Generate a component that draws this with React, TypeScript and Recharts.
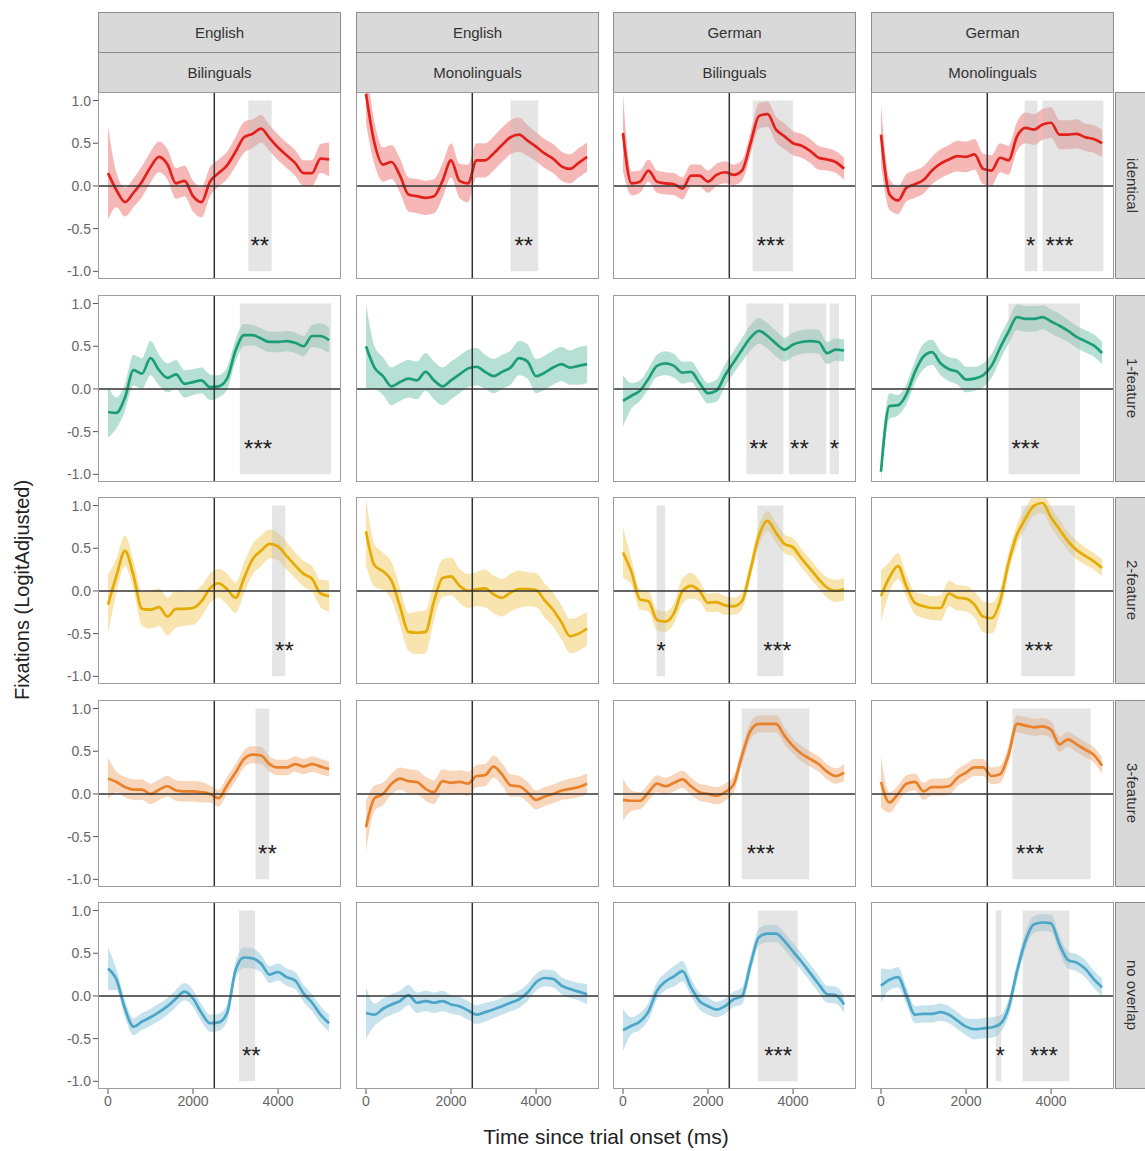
import React from "react";
import {
  ComposedChart,
  Area,
  Line,
  XAxis,
  YAxis,
  ReferenceArea,
  ReferenceLine,
  ReferenceDot,
} from "recharts";

// time points (ms since trial onset)
const TIME = [
  0, 200, 400, 600, 800, 1000, 1200, 1400, 1600, 1800, 2000, 2200, 2400, 2600,
  2800, 3000, 3200, 3400, 3600, 3800, 4000, 4200, 4400, 4600, 4800, 5000, 5200,
];

const LANGUAGES = ["English", "English", "German", "German"];
const GROUPS = ["Bilinguals", "Monolinguals", "Bilinguals", "Monolinguals"];
const CONDITIONS = ["identical", "1-feature", "2-feature", "3-feature", "no overlap"];
const X_TICKS = [0, 2000, 4000];
const Y_TICKS = [-1, -0.5, 0, 0.5, 1];
const TARGET_ONSET = 2500;

// --- identical ---
const identEnBi = [0.15, -0.05, -0.19, -0.08, 0.05, 0.22, 0.34, 0.25, 0.03, 0.06, -0.12, -0.19, 0.05, 0.15, 0.24, 0.4, 0.57, 0.61, 0.67, 0.56, 0.45, 0.36, 0.27, 0.15, 0.15, 0.32, 0.31];
const identEnBiSe = [0.55, 0.2, 0.17, 0.17, 0.18, 0.18, 0.18, 0.18, 0.18, 0.18, 0.18, 0.18, 0.17, 0.16, 0.16, 0.17, 0.18, 0.17, 0.16, 0.15, 0.15, 0.15, 0.15, 0.15, 0.15, 0.17, 0.2];
const identEnMo = [1.08, 0.5, 0.25, 0.28, 0.12, -0.1, -0.12, -0.14, -0.12, 0.06, 0.3, 0.06, 0.03, 0.3, 0.3, 0.38, 0.48, 0.57, 0.6, 0.53, 0.46, 0.38, 0.32, 0.23, 0.2, 0.27, 0.34];
const identEnMoSe = [0.35, 0.25, 0.2, 0.2, 0.2, 0.2, 0.2, 0.2, 0.2, 0.2, 0.2, 0.2, 0.22, 0.2, 0.2, 0.2, 0.2, 0.2, 0.2, 0.18, 0.17, 0.17, 0.17, 0.17, 0.17, 0.17, 0.17];
const identGeBi = [0.62, 0.03, 0.05, 0.18, 0.05, 0.03, 0.02, -0.03, 0.12, 0.12, 0.05, 0.13, 0.16, 0.13, 0.18, 0.5, 0.82, 0.84, 0.66, 0.58, 0.5, 0.47, 0.41, 0.33, 0.31, 0.28, 0.2];
const identGeBiSe = [0.45, 0.14, 0.13, 0.13, 0.13, 0.13, 0.13, 0.13, 0.13, 0.13, 0.13, 0.13, 0.13, 0.12, 0.12, 0.13, 0.15, 0.15, 0.15, 0.15, 0.14, 0.14, 0.14, 0.14, 0.13, 0.13, 0.13];
const identGeMo = [0.6, -0.1, -0.17, -0.02, 0.02, 0.07, 0.18, 0.26, 0.31, 0.35, 0.34, 0.37, 0.2, 0.18, 0.33, 0.3, 0.58, 0.68, 0.66, 0.72, 0.74, 0.6, 0.6, 0.61, 0.57, 0.55, 0.5];
const identGeMoSe = [0.35, 0.18, 0.16, 0.16, 0.16, 0.16, 0.16, 0.17, 0.17, 0.18, 0.18, 0.18, 0.18, 0.18, 0.17, 0.17, 0.17, 0.18, 0.18, 0.18, 0.18, 0.17, 0.17, 0.17, 0.16, 0.16, 0.16];

// --- 1-feature ---
const oneEnBi = [-0.27, -0.28, -0.1, 0.22, 0.18, 0.36, 0.22, 0.13, 0.17, 0.06, 0.08, 0.1, 0.02, 0.03, 0.12, 0.45, 0.63, 0.63, 0.59, 0.55, 0.55, 0.56, 0.54, 0.5, 0.62, 0.62, 0.57];
const oneEnBiSe = [0.3, 0.18, 0.16, 0.18, 0.18, 0.2, 0.18, 0.17, 0.17, 0.16, 0.15, 0.15, 0.15, 0.13, 0.13, 0.13, 0.13, 0.12, 0.12, 0.12, 0.12, 0.12, 0.12, 0.12, 0.13, 0.15, 0.15];
const oneEnMo = [0.5, 0.25, 0.15, 0.03, 0.08, 0.12, 0.1, 0.2, 0.1, 0.03, 0.1, 0.17, 0.24, 0.26, 0.2, 0.15, 0.2, 0.25, 0.36, 0.32, 0.15, 0.19, 0.25, 0.29, 0.25, 0.27, 0.29];
const oneEnMoSe = [0.5, 0.25, 0.22, 0.22, 0.22, 0.22, 0.22, 0.22, 0.22, 0.22, 0.22, 0.22, 0.22, 0.22, 0.2, 0.2, 0.2, 0.2, 0.2, 0.2, 0.2, 0.2, 0.2, 0.2, 0.2, 0.22, 0.22];
const oneGeBi = [-0.14, -0.08, -0.02, 0.12, 0.27, 0.3, 0.27, 0.19, 0.2, 0.07, -0.05, -0.02, 0.16, 0.31, 0.46, 0.6, 0.68, 0.62, 0.53, 0.46, 0.52, 0.55, 0.56, 0.55, 0.42, 0.46, 0.45];
const oneGeBiSe = [0.3, 0.15, 0.12, 0.12, 0.13, 0.14, 0.14, 0.13, 0.12, 0.12, 0.12, 0.13, 0.13, 0.13, 0.14, 0.15, 0.15, 0.15, 0.15, 0.14, 0.14, 0.14, 0.14, 0.14, 0.13, 0.13, 0.13];
const oneGeMo = [-0.97, -0.2, -0.19, -0.06, 0.2, 0.38, 0.43, 0.3, 0.23, 0.2, 0.11, 0.12, 0.16, 0.27, 0.48, 0.67, 0.84, 0.82, 0.82, 0.84, 0.79, 0.74, 0.68, 0.61, 0.56, 0.51, 0.42];
const oneGeMoSe = [0.12, 0.15, 0.12, 0.12, 0.13, 0.15, 0.15, 0.14, 0.14, 0.15, 0.15, 0.14, 0.14, 0.14, 0.14, 0.14, 0.15, 0.15, 0.15, 0.14, 0.14, 0.14, 0.13, 0.13, 0.13, 0.13, 0.13];

// --- 2-feature ---
const twoEnBi = [-0.16, 0.18, 0.47, 0.18, -0.21, -0.22, -0.19, -0.3, -0.21, -0.21, -0.2, -0.12, 0.03, 0.09, 0.02, -0.08, 0.15, 0.37, 0.47, 0.55, 0.52, 0.41, 0.3, 0.2, 0.14, -0.03, -0.06];
const twoEnBiSe = [0.35, 0.2, 0.18, 0.17, 0.2, 0.22, 0.22, 0.22, 0.22, 0.2, 0.2, 0.18, 0.17, 0.17, 0.18, 0.18, 0.18, 0.18, 0.18, 0.17, 0.16, 0.16, 0.15, 0.15, 0.15, 0.16, 0.18];
const twoEnMo = [0.7, 0.3, 0.23, 0.12, -0.18, -0.48, -0.49, -0.48, -0.12, 0.15, 0.17, 0.06, 0, 0.02, 0.03, -0.04, -0.08, -0.02, 0.02, 0.02, 0.01, -0.11, -0.22, -0.37, -0.53, -0.5, -0.44];
const twoEnMoSe = [0.4, 0.25, 0.22, 0.22, 0.22, 0.22, 0.25, 0.25, 0.22, 0.22, 0.22, 0.2, 0.2, 0.2, 0.22, 0.22, 0.22, 0.22, 0.22, 0.2, 0.2, 0.2, 0.2, 0.2, 0.2, 0.2, 0.2];
const twoGeBi = [0.45, 0.22, -0.1, -0.12, -0.34, -0.36, -0.26, 0, 0.06, 0, -0.14, -0.13, -0.17, -0.18, -0.12, 0.25, 0.65, 0.82, 0.68, 0.55, 0.51, 0.38, 0.26, 0.14, 0.04, 0, 0.02];
const twoGeBiSe = [0.3, 0.15, 0.12, 0.12, 0.12, 0.12, 0.12, 0.15, 0.15, 0.12, 0.11, 0.11, 0.11, 0.1, 0.1, 0.1, 0.12, 0.12, 0.12, 0.11, 0.11, 0.11, 0.11, 0.11, 0.12, 0.13, 0.13];
const twoGeMo = [-0.06, 0.16, 0.29, 0.05, -0.14, -0.18, -0.2, -0.2, -0.03, -0.08, -0.09, -0.16, -0.3, -0.32, -0.12, 0.33, 0.66, 0.85, 1.0, 1.03, 0.86, 0.72, 0.58, 0.48, 0.41, 0.35, 0.27];
const twoGeMoSe = [0.3, 0.18, 0.15, 0.13, 0.13, 0.14, 0.14, 0.15, 0.15, 0.15, 0.15, 0.15, 0.18, 0.18, 0.14, 0.12, 0.12, 0.12, 0.12, 0.12, 0.12, 0.12, 0.11, 0.11, 0.1, 0.1, 0.1];

// --- 3-feature ---
const threeEnBi = [0.18, 0.14, 0.08, 0.05, 0.05, 0, 0.05, 0.09, 0.04, 0.03, 0.03, 0.02, 0, -0.05, 0.1, 0.25, 0.41, 0.46, 0.45, 0.35, 0.31, 0.31, 0.35, 0.32, 0.35, 0.32, 0.29];
const threeEnBiSe = [0.25, 0.12, 0.12, 0.12, 0.12, 0.12, 0.12, 0.12, 0.12, 0.12, 0.12, 0.12, 0.1, 0.1, 0.1, 0.1, 0.1, 0.1, 0.1, 0.09, 0.09, 0.09, 0.09, 0.09, 0.09, 0.09, 0.09];
const threeEnMo = [-0.39, -0.05, 0, 0.12, 0.18, 0.15, 0.14, 0.06, 0.02, 0.15, 0.13, 0.14, 0.12, 0.21, 0.22, 0.32, 0.23, 0.1, 0.09, 0.02, -0.07, -0.03, 0, 0.04, 0.06, 0.08, 0.12];
const threeEnMoSe = [0.3, 0.15, 0.13, 0.12, 0.13, 0.14, 0.14, 0.14, 0.14, 0.14, 0.14, 0.14, 0.14, 0.13, 0.13, 0.13, 0.13, 0.13, 0.12, 0.12, 0.11, 0.11, 0.11, 0.11, 0.12, 0.12, 0.12];
const threeGeBi = [-0.07, -0.08, -0.08, 0.02, 0.12, 0.09, 0.13, 0.17, 0.09, 0.02, 0, -0.02, 0.02, 0.11, 0.45, 0.74, 0.82, 0.82, 0.82, 0.68, 0.56, 0.47, 0.41, 0.35, 0.26, 0.21, 0.25];
const threeGeBiSe = [0.25, 0.12, 0.1, 0.1, 0.1, 0.1, 0.1, 0.1, 0.1, 0.1, 0.1, 0.1, 0.1, 0.1, 0.1, 0.1, 0.1, 0.1, 0.1, 0.1, 0.09, 0.09, 0.09, 0.09, 0.09, 0.09, 0.1];
const threeGeMo = [0.14, -0.1, 0, 0.12, 0.14, 0.03, 0.08, 0.08, 0.09, 0.19, 0.25, 0.31, 0.31, 0.21, 0.23, 0.46, 0.82, 0.8, 0.78, 0.79, 0.75, 0.58, 0.64, 0.58, 0.52, 0.46, 0.33];
const threeGeMoSe = [0.3, 0.12, 0.1, 0.1, 0.1, 0.1, 0.1, 0.1, 0.1, 0.1, 0.1, 0.1, 0.1, 0.1, 0.1, 0.1, 0.1, 0.1, 0.1, 0.1, 0.1, 0.09, 0.09, 0.09, 0.09, 0.09, 0.1];

// --- no overlap ---
const noneEnBi = [0.32, 0.19, -0.15, -0.36, -0.3, -0.25, -0.19, -0.12, -0.03, 0.05, -0.03, -0.2, -0.32, -0.31, -0.2, 0.3, 0.45, 0.44, 0.38, 0.25, 0.28, 0.22, 0.18, 0.03, -0.08, -0.22, -0.32];
const noneEnBiSe = [0.25, 0.12, 0.1, 0.1, 0.1, 0.1, 0.1, 0.1, 0.1, 0.1, 0.1, 0.1, 0.1, 0.1, 0.1, 0.1, 0.12, 0.12, 0.1, 0.1, 0.1, 0.1, 0.1, 0.1, 0.1, 0.1, 0.1];
const noneEnMo = [-0.2, -0.22, -0.15, -0.1, -0.06, 0.01, -0.08, -0.06, -0.08, -0.06, -0.1, -0.12, -0.17, -0.22, -0.19, -0.16, -0.12, -0.08, -0.04, 0.04, 0.16, 0.21, 0.2, 0.12, 0.08, 0.05, 0.02];
const noneEnMoSe = [0.3, 0.13, 0.12, 0.12, 0.12, 0.12, 0.12, 0.12, 0.12, 0.12, 0.11, 0.11, 0.11, 0.11, 0.11, 0.1, 0.1, 0.1, 0.1, 0.1, 0.1, 0.1, 0.1, 0.1, 0.1, 0.1, 0.12];
const noneGeBi = [-0.4, -0.35, -0.3, -0.18, 0.06, 0.17, 0.23, 0.29, 0.1, -0.06, -0.12, -0.16, -0.12, -0.04, 0, 0.37, 0.69, 0.73, 0.73, 0.64, 0.52, 0.4, 0.27, 0.14, 0.02, 0.01, -0.1];
const noneGeBiSe = [0.25, 0.1, 0.1, 0.1, 0.1, 0.1, 0.12, 0.12, 0.1, 0.1, 0.1, 0.09, 0.09, 0.09, 0.1, 0.1, 0.1, 0.1, 0.1, 0.1, 0.1, 0.1, 0.1, 0.1, 0.1, 0.1, 0.1];
const noneGeMo = [0.12, 0.19, 0.22, 0, -0.22, -0.21, -0.21, -0.19, -0.22, -0.29, -0.36, -0.39, -0.38, -0.37, -0.33, -0.14, 0.29, 0.65, 0.84, 0.86, 0.85, 0.6, 0.42, 0.39, 0.32, 0.2, 0.1];
const noneGeMoSe = [0.2, 0.12, 0.12, 0.1, 0.1, 0.1, 0.1, 0.1, 0.1, 0.1, 0.1, 0.12, 0.12, 0.12, 0.1, 0.1, 0.1, 0.1, 0.1, 0.1, 0.1, 0.1, 0.1, 0.1, 0.1, 0.1, 0.1];

// significant windows: [from, to, label at, stars]
type Sig = [number, number, number, string];
const identEnBiSig: Sig[] = [[3300, 3850, 3570, "**"]];
const identEnMoSig: Sig[] = [[3400, 4050, 3710, "**"]];
const identGeBiSig: Sig[] = [[3050, 4000, 3475, "***"]];
const identGeMoSig: Sig[] = [[3380, 3680, 3520, "*"], [3800, 5230, 4200, "***"]];
const oneEnBiSig: Sig[] = [[3100, 5250, 3530, "***"]];
const oneEnMoSig: Sig[] = [];
const oneGeBiSig: Sig[] = [[2900, 3770, 3190, "**"], [3900, 4780, 4150, "**"], [4860, 5080, 4970, "*"]];
const oneGeMoSig: Sig[] = [[3000, 4680, 3400, "***"]];
const twoEnBiSig: Sig[] = [[3860, 4170, 4150, "**"]];
const twoEnMoSig: Sig[] = [];
const twoGeBiSig: Sig[] = [[790, 990, 900, "*"], [3160, 3770, 3630, "***"]];
const twoGeMoSig: Sig[] = [[3300, 4560, 3710, "***"]];
const threeEnBiSig: Sig[] = [[3470, 3790, 3750, "**"]];
const threeEnMoSig: Sig[] = [];
const threeGeBiSig: Sig[] = [[2790, 4380, 3240, "***"]];
const threeGeMoSig: Sig[] = [[3090, 4930, 3506, "***"]];
const noneEnBiSig: Sig[] = [[3080, 3460, 3370, "**"]];
const noneEnMoSig: Sig[] = [];
const noneGeBiSig: Sig[] = [[3170, 4110, 3650, "***"]];
const noneGeMoSig: Sig[] = [[2700, 2830, 2800, "*"], [3330, 4430, 3830, "***"]];

const PANELS = [
  [
    { mean: identEnBi, se: identEnBiSe, sig: identEnBiSig },
    { mean: identEnMo, se: identEnMoSe, sig: identEnMoSig },
    { mean: identGeBi, se: identGeBiSe, sig: identGeBiSig },
    { mean: identGeMo, se: identGeMoSe, sig: identGeMoSig },
  ],
  [
    { mean: oneEnBi, se: oneEnBiSe, sig: oneEnBiSig },
    { mean: oneEnMo, se: oneEnMoSe, sig: oneEnMoSig },
    { mean: oneGeBi, se: oneGeBiSe, sig: oneGeBiSig },
    { mean: oneGeMo, se: oneGeMoSe, sig: oneGeMoSig },
  ],
  [
    { mean: twoEnBi, se: twoEnBiSe, sig: twoEnBiSig },
    { mean: twoEnMo, se: twoEnMoSe, sig: twoEnMoSig },
    { mean: twoGeBi, se: twoGeBiSe, sig: twoGeBiSig },
    { mean: twoGeMo, se: twoGeMoSe, sig: twoGeMoSig },
  ],
  [
    { mean: threeEnBi, se: threeEnBiSe, sig: threeEnBiSig },
    { mean: threeEnMo, se: threeEnMoSe, sig: threeEnMoSig },
    { mean: threeGeBi, se: threeGeBiSe, sig: threeGeBiSig },
    { mean: threeGeMo, se: threeGeMoSe, sig: threeGeMoSig },
  ],
  [
    { mean: noneEnBi, se: noneEnBiSe, sig: noneEnBiSig },
    { mean: noneEnMo, se: noneEnMoSe, sig: noneEnMoSig },
    { mean: noneGeBi, se: noneGeBiSe, sig: noneGeBiSig },
    { mean: noneGeMo, se: noneGeMoSe, sig: noneGeMoSig },
  ],
];

const COLORS = ["#E3211C", "#1B9E77", "#E6AB02", "#E8812A", "#4BA6C8"];

const FONT = '"Liberation Sans", Arial, Helvetica, sans-serif';
const PANEL_W = 243;
const PANEL_H = 187;
const COL_LEFT = [98, 356, 613, 871];
const ROW_TOP = [92, 295, 497, 700, 902];
const Y_AXIS_W = 44;
const X_AXIS_H = 30;
const X_DOMAIN: [number, number] = [-235, 5480];
const Y_DOMAIN: [number, number] = [-1.09, 1.1];

function starLabel(text: string) {
  return (props: any) => {
    const vb = props.viewBox || {};
    const x = (vb.x ?? 0) + (vb.width ?? 0) / 2;
    const y = (vb.y ?? 0) + (vb.height ?? 0) / 2;
    return (
      <text x={x} y={y + 13} textAnchor="middle" fontSize={24} fill="#222" fontFamily={FONT}>
        {text}
      </text>
    );
  };
}

function Panel({ row, col }: { row: number; col: number }) {
  const p = PANELS[row][col];
  const color = COLORS[row];
  const showY = col === 0;
  const showX = row === 4;
  const data = TIME.map((t, i) => ({
    t,
    mean: p.mean[i],
    band: [p.mean[i] - p.se[i], p.mean[i] + p.se[i]],
  }));
  const left = COL_LEFT[col] - (showY ? Y_AXIS_W : 0);
  return (
    <>
      <div style={{ position: "absolute", left, top: ROW_TOP[row] }}>
        <ComposedChart
          width={PANEL_W + (showY ? Y_AXIS_W : 0)}
          height={PANEL_H + (showX ? X_AXIS_H : 0)}
          data={data}
          margin={{ top: 0, right: 0, bottom: 0, left: 0 }}
        >
          <XAxis
            dataKey="t"
            type="number"
            domain={X_DOMAIN}
            ticks={X_TICKS}
            interval={0}
            allowDataOverflow
            hide={!showX}
            height={X_AXIS_H}
            axisLine={false}
            tickSize={5}
            tickLine={{ stroke: "#555" }}
            tick={{ fontSize: 14, fill: "#666", fontFamily: FONT }}
          />
          <YAxis
            type="number"
            domain={Y_DOMAIN}
            ticks={Y_TICKS}
            interval={0}
            allowDataOverflow
            hide={!showY}
            width={Y_AXIS_W}
            axisLine={false}
            tickSize={5}
            tickLine={{ stroke: "#555" }}
            tick={{ fontSize: 14, fill: "#666", fontFamily: FONT }}
            tickFormatter={(v: number) => v.toFixed(1)}
          />
          <Area
            type="monotone"
            dataKey="band"
            stroke="none"
            fill={color}
            fillOpacity={0.32}
            isAnimationActive={false}
          />
          <Line
            type="monotone"
            dataKey="mean"
            stroke={color}
            strokeWidth={2.7}
            dot={false}
            isAnimationActive={false}
          />
          <ReferenceLine x={TARGET_ONSET} stroke="#333" strokeWidth={1.5} />
          <ReferenceLine y={0} stroke="#333" strokeWidth={1.5} />
          {p.sig.map(([from, to], i) => (
            <ReferenceArea
              key={`a${i}`}
              x1={from}
              x2={to}
              y1={-1}
              y2={1}
              fill="#bdbdbd"
              fillOpacity={0.4}
              stroke="none"
            />
          ))}
          {p.sig.map(([, , at, stars], i) => (
            <ReferenceDot
              key={`s${i}`}
              x={at}
              y={-0.65}
              r={1}
              fill="none"
              stroke="none"
              label={starLabel(stars)}
            />
          ))}
        </ComposedChart>
      </div>
      <div
        style={{
          position: "absolute",
          left: COL_LEFT[col],
          top: ROW_TOP[row],
          width: PANEL_W,
          height: PANEL_H,
          border: "1px solid #9c9c9c",
          boxSizing: "border-box",
          pointerEvents: "none",
        }}
      />
    </>
  );
}

const stripStyle: React.CSSProperties = {
  position: "absolute",
  background: "#d9d9d9",
  border: "1px solid #8c8c8c",
  boxSizing: "border-box",
  display: "flex",
  alignItems: "center",
  justifyContent: "center",
  fontSize: 15,
  color: "#333",
};

export default function App() {
  return (
    <div
      style={{
        position: "absolute",
        left: 0,
        top: 0,
        width: 1145,
        height: 1151,
        background: "#fff",
        fontFamily: FONT,
        overflow: "hidden",
      }}
    >
      {LANGUAGES.map((lang, c) => (
        <React.Fragment key={`h${c}`}>
          <div style={{ ...stripStyle, left: COL_LEFT[c], top: 12, width: PANEL_W, height: 41 }}>{lang}</div>
          <div style={{ ...stripStyle, left: COL_LEFT[c], top: 52, width: PANEL_W, height: 41 }}>{GROUPS[c]}</div>
        </React.Fragment>
      ))}
      {CONDITIONS.map((cond, r) => (
        <div
          key={`r${r}`}
          style={{ ...stripStyle, left: 1115, top: ROW_TOP[r], width: 34, height: PANEL_H }}
        >
          <span style={{ writingMode: "vertical-rl" }}>{cond}</span>
        </div>
      ))}
      {CONDITIONS.map((_, r) =>
        LANGUAGES.map((__, c) => <Panel key={`p${r}-${c}`} row={r} col={c} />)
      )}
      <div
        style={{
          position: "absolute",
          left: 22,
          top: 590,
          transform: "translate(-50%, -50%) rotate(-90deg)",
          whiteSpace: "nowrap",
          fontSize: 20,
          color: "#222",
        }}
      >
        Fixations (LogitAdjusted)
      </div>
      <div
        style={{
          position: "absolute",
          left: 606,
          top: 1137,
          transform: "translate(-50%, -50%)",
          whiteSpace: "nowrap",
          fontSize: 21,
          color: "#222",
        }}
      >
        Time since trial onset (ms)
      </div>
    </div>
  );
}
